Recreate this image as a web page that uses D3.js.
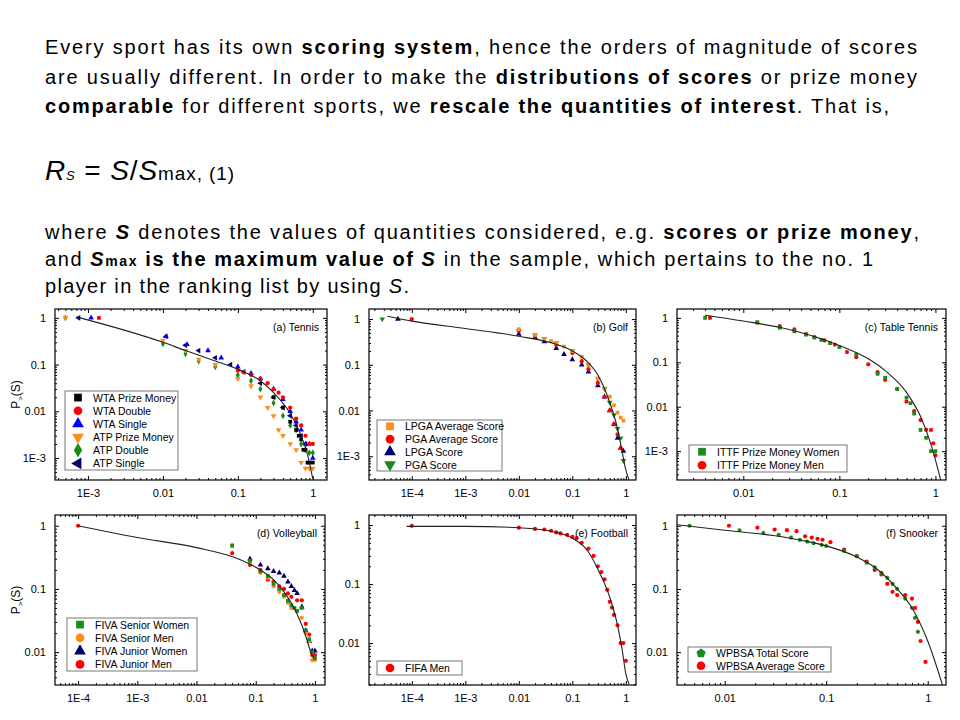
<!DOCTYPE html>
<html><head><meta charset="utf-8">
<script src="https://cdn.jsdelivr.net/npm/d3@7"></script>
<style>
body{margin:0;background:#fff;}
svg{font-family:"Liberation Sans",Arial,sans-serif;}
</style></head>
<body><svg id="chart" width="960" height="720"></svg>
<script>
// ---- data ([rescaled S, P>(S)]) ----
var tennisFit = [[7e-4,1.05],[0.01,0.3],[0.02,0.2],[0.05,0.12],[0.1,0.08],[0.2,0.045],[0.3,0.025],[0.5,0.009],[0.7,0.003],[0.85,0.0012],[1,0.00036]];
var wtaPrize = [[0.3,0.02],[0.4,0.012],[0.5,0.006],[0.6,0.004],[0.65,0.003],[0.7,0.0025],[0.75,0.0015],[0.8,0.0015],[0.85,0.0008],[0.9,0.0008],[1,0.0008]];
var wtaDouble = [[1.4e-3,1],[0.1,0.075],[0.12,0.068],[0.15,0.06],[0.2,0.05],[0.25,0.04],[0.3,0.03],[0.35,0.025],[0.4,0.02],[0.5,0.012],[0.6,0.007],[0.7,0.005],[0.8,0.003],[0.9,0.002],[1,0.002]];
var wtaSingle = [[1.1e-3,1],[0.011,0.4],[0.021,0.27],[0.04,0.2],[0.06,0.14],[0.1,0.09],[0.15,0.065],[0.2,0.05],[0.3,0.03],[0.4,0.018],[0.5,0.01],[0.6,0.006],[0.7,0.004],[0.8,0.002],[0.9,0.002],[1,0.001]];
var atpPrize = [[5e-4,1],[0.01,0.33],[0.02,0.2],[0.03,0.13],[0.05,0.1],[0.1,0.05],[0.15,0.035],[0.2,0.02],[0.25,0.012],[0.3,0.008],[0.35,0.004],[0.4,0.003],[0.5,0.002],[0.6,0.0015],[0.7,0.0008],[0.8,0.0006],[0.9,0.0006],[1,0.0006]];
var atpDouble = [[5e-4,1],[0.01,0.28],[0.02,0.17],[0.03,0.12],[0.05,0.09],[0.1,0.06],[0.15,0.045],[0.2,0.03],[0.3,0.015],[0.4,0.008],[0.5,0.005],[0.6,0.004],[0.7,0.002],[0.8,0.0015],[0.9,0.0013],[1,0.0013]];
var atpSingle = [[7.5e-4,1],[0.011,0.4],[0.02,0.26],[0.03,0.2],[0.05,0.14],[0.08,0.1],[0.12,0.07],[0.2,0.04],[0.3,0.02],[0.4,0.012],[0.5,0.008],[0.6,0.005],[0.7,0.003],[0.8,0.002]];

var golfFit = [[3.5e-5,1.15],[1e-4,0.9],[1e-3,0.62],[0.01,0.42],[0.05,0.28],[0.1,0.2],[0.2,0.11],[0.3,0.06],[0.5,0.015],[0.7,0.004],[0.85,0.0013],[1,0.0005],[1.15,0.0003]];
var lpgaAvg = [[0.01,0.6],[0.02,0.45],[0.03,0.37],[0.04,0.33],[0.05,0.3],[0.07,0.25],[0.1,0.2],[0.15,0.15],[0.2,0.1],[0.3,0.05],[0.4,0.03],[0.5,0.02],[0.6,0.013],[0.7,0.009],[0.8,0.007],[0.9,0.006]];
var pgaAvg = [[1e-4,1],[0.01,0.55],[0.02,0.43],[0.05,0.27],[0.1,0.18],[0.15,0.12],[0.2,0.08],[0.3,0.04],[0.4,0.02],[0.5,0.01],[0.6,0.005],[0.7,0.003],[0.8,0.0015]];
var lpgaScore = [[5.5e-5,1],[0.01,0.47],[0.02,0.4],[0.03,0.32],[0.05,0.23],[0.07,0.17],[0.1,0.13],[0.15,0.1],[0.2,0.07],[0.3,0.035],[0.4,0.02],[0.5,0.01],[0.6,0.005],[0.7,0.0025],[0.8,0.0015],[0.9,0.0013]];
var pgaScore = [[2.8e-5,1],[0.01,0.55],[0.02,0.45],[0.03,0.37],[0.05,0.3],[0.1,0.2],[0.2,0.1],[0.3,0.05],[0.4,0.03],[0.5,0.015],[0.6,0.008],[0.7,0.004],[0.8,0.0025],[0.9,0.0008]];

var ttFit = [[4e-3,1.15],[0.01,0.85],[0.03,0.55],[0.1,0.24],[0.2,0.12],[0.3,0.065],[0.5,0.021],[0.7,0.006],[0.9,0.0014],[1.15,0.0002]];
var ittfWomen = [[4e-3,1],[0.014,0.8],[0.024,0.6],[0.034,0.5],[0.045,0.42],[0.055,0.36],[0.065,0.32],[0.08,0.27],[0.1,0.22],[0.15,0.15],[0.25,0.055],[0.3,0.045],[0.4,0.025],[0.5,0.016],[0.55,0.012],[0.6,0.007],[0.7,0.003],[0.8,0.002],[0.9,0.001],[1,0.001]];
var ittfMen = [[4.5e-3,1],[0.014,0.78],[0.024,0.65],[0.034,0.55],[0.045,0.43],[0.055,0.37],[0.07,0.31],[0.09,0.25],[0.12,0.17],[0.15,0.13],[0.2,0.09],[0.25,0.06],[0.3,0.04],[0.4,0.025],[0.5,0.013],[0.6,0.008],[0.7,0.005],[0.8,0.003],[0.9,0.003],[0.95,0.0015],[1,0.0008]];

var volleyFit = [[1e-4,1],[1e-3,0.65],[0.01,0.45],[0.05,0.3],[0.1,0.22],[0.2,0.14],[0.3,0.09],[0.5,0.04],[0.7,0.018],[0.85,0.01],[0.95,0.008]];
var seniorWomen = [[0.04,0.48],[0.08,0.28],[0.12,0.19],[0.16,0.16],[0.2,0.12],[0.25,0.1],[0.3,0.08],[0.35,0.065],[0.4,0.055],[0.45,0.05],[0.5,0.045],[0.6,0.05],[0.7,0.022],[0.8,0.016],[0.9,0.01],[1,0.008]];
var seniorMen = [[0.04,0.5],[0.08,0.26],[0.12,0.18],[0.16,0.15],[0.2,0.11],[0.25,0.09],[0.3,0.075],[0.35,0.06],[0.4,0.05],[0.5,0.045],[0.6,0.035],[0.7,0.02],[0.8,0.015],[0.9,0.0075],[1,0.0075]];
var juniorWomen = [[0.08,0.3],[0.12,0.24],[0.16,0.21],[0.2,0.19],[0.25,0.18],[0.3,0.16],[0.35,0.13],[0.4,0.11],[0.45,0.095],[0.5,0.085],[0.6,0.052],[0.7,0.022],[0.8,0.015],[0.9,0.0105],[1,0.0105]];
var juniorMen = [[1e-4,1],[0.04,0.37],[0.08,0.24],[0.12,0.2],[0.16,0.14],[0.2,0.13],[0.25,0.11],[0.3,0.1],[0.35,0.085],[0.4,0.075],[0.5,0.066],[0.6,0.066],[0.7,0.028],[0.8,0.019],[0.9,0.009],[1,0.009]];

var footFit = [[8e-5,0.95],[1e-3,0.95],[0.01,0.9],[0.05,0.75],[0.1,0.6],[0.2,0.35],[0.3,0.18],[0.5,0.06],[0.7,0.02],[0.85,0.008],[1,0.003],[1.15,0.002]];
var fifaMen = [[1e-4,0.97],[0.01,0.9],[0.02,0.86],[0.03,0.84],[0.04,0.8],[0.05,0.75],[0.06,0.72],[0.08,0.68],[0.1,0.63],[0.12,0.6],[0.15,0.5],[0.2,0.4],[0.25,0.3],[0.3,0.2],[0.35,0.16],[0.4,0.12],[0.45,0.08],[0.5,0.05],[0.55,0.04],[0.6,0.03],[0.7,0.02],[0.8,0.01],[0.9,0.01],[1,0.005]];

var snookerFit = [[3.2e-3,1.05],[0.01,0.85],[0.03,0.7],[0.06,0.58],[0.1,0.48],[0.2,0.32],[0.3,0.22],[0.5,0.1],[0.7,0.05],[1,0.015],[1.4,0.003]];
var wpbsaTotal = [[4.5e-3,1],[0.014,0.85],[0.024,0.77],[0.034,0.72],[0.045,0.65],[0.055,0.6],[0.065,0.56],[0.075,0.53],[0.09,0.5],[0.1,0.48],[0.15,0.4],[0.2,0.33],[0.25,0.26],[0.3,0.22],[0.35,0.18],[0.4,0.15],[0.45,0.12],[0.5,0.1],[0.6,0.07],[0.7,0.05],[0.75,0.035],[0.8,0.021]];
var wpbsaAvg = [[0.011,1],[0.021,0.93],[0.031,0.87],[0.041,0.85],[0.051,0.82],[0.062,0.68],[0.072,0.65],[0.082,0.62],[0.092,0.6],[0.11,0.55],[0.15,0.42],[0.2,0.33],[0.25,0.27],[0.3,0.2],[0.35,0.17],[0.4,0.12],[0.45,0.09],[0.5,0.08],[0.6,0.08],[0.7,0.07],[0.75,0.05],[0.8,0.03],[0.85,0.015],[0.95,0.007]];

var panels = [
  {title:"(a) Tennis", box:[55,309,327,480], xd:[-3.44,0.19], yd:[-3.47,0.19], xt:[-3,-2,-1,0], yt:[-3,-2,-1,0], ylab:true,
   fit:tennisFit, leg:[65,391,178,470],
   series:[["WTA Prize Money",wtaPrize,"#000","square"],["WTA Double",wtaDouble,"#f00","circle"],["WTA Single",wtaSingle,"#00f","up"],
           ["ATP Prize Money",atpPrize,"#ff8c1a","down"],["ATP Double",atpDouble,"#1a8a1a","diamond"],["ATP Single",atpSingle,"#00006e","left"]]},
  {title:"(b) Golf", box:[369,309,636,480], xd:[-4.8,0.19], yd:[-3.52,0.22], xt:[-4,-3,-2,-1,0], yt:[-3,-2,-1,0],
   fit:golfFit, leg:[377,420,502,471],
   series:[["LPGA Average Score",lpgaAvg,"#ff8c1a","square"],["PGA Average Score",pgaAvg,"#f00","circle"],["LPGA Score",lpgaScore,"#00006e","up"],["PGA Score",pgaScore,"#1a8a1a","down"]]},
  {title:"(c) Table Tennis", box:[677,309,946,480], xd:[-2.69,0.11], yd:[-3.65,0.2], xt:[-2,-1,0], yt:[-3,-2,-1,0],
   fit:ttFit, leg:[689,445,847,472],
   series:[["ITTF Prize Money Women",ittfWomen,"#1a8a1a","square"],["ITTF Prize Money Men",ittfMen,"#f00","circle"]]},
  {title:"(d) Volleyball", box:[55,515,325,685], xd:[-4.39,0.17], yd:[-2.52,0.17], xt:[-4,-3,-2,-1,0], yt:[-2,-1,0], ylab:true,
   fit:volleyFit, leg:[67,618,197,671],
   series:[["FIVA Senior Women",seniorWomen,"#1a8a1a","square"],["FIVA Senior Men",seniorMen,"#ff8c1a","circle"],["FIVA Junior Women",juniorWomen,"#00006e","up"],["FIVA Junior Men",juniorMen,"#f00","circle"]]},
  {title:"(e) Football", box:[369,515,636,685], xd:[-4.8,0.19], yd:[-2.71,0.17], xt:[-4,-3,-2,-1,0], yt:[-2,-1,0],
   fit:footFit, leg:[377,661,462,675],
   series:[["FIFA Men",fifaMen,"#f00","circle"]]},
  {title:"(f) Snooker", box:[677,515,946,685], xd:[-2.47,0.18], yd:[-2.52,0.17], xt:[-2,-1,0], yt:[-2,-1,0],
   fit:snookerFit, leg:[688,647,831,672],
   series:[["WPBSA Total Score",wpbsaTotal,"#1a8a1a","pentagon"],["WPBSA Average Score",wpbsaAvg,"#f00","circle"]]}
];

var svg = d3.select("#chart");

// ---- slide text ----
var para1 = [
  [["Every sport has its own ",0],["scoring system",1],[", hence the orders of magnitude of scores",0]],
  [["are usually different. In order to make the ",0],["distributions of scores",1],[" or prize money",0]],
  [["comparable",1],[" for different sports, we ",0],["rescale the quantities of interest",1],[". That is,",0]]
];
var para1Len = [872, 872, 844];
var para2 = [
  [["where ",0],["S",2],[" denotes the values of quantities considered, e.g. ",0],["scores or prize money",1],[",",0]],
  [["and ",0],["S",2],["max",3],[" is the maximum value of ",1],["S",2],[" in the sample, which pertains to the no. 1",0]],
  [["player in the ranking list by using ",0],["S",4],[".",0]]
];
var para2Len = [874, 828, 364];
function writeLines(lines, lens, y0, dy) {
  lines.forEach(function(parts, i) {
    var t = svg.append("text").attr("x", 45).attr("y", y0 + i*dy).attr("font-size", 20).attr("fill", "#000")
      .attr("textLength", lens[i]).attr("lengthAdjust", "spacing");
    parts.forEach(function(p) {
      var s = t.append("tspan").text(p[0]);
      if (p[1] == 1 || p[1] == 2) s.attr("font-weight", "bold");
      if (p[1] == 2 || p[1] == 4) s.attr("font-style", "italic");
      if (p[1] == 3) s.attr("font-weight", "bold").attr("font-size", 14);
    });
  });
}
writeLines(para1, para1Len, 54, 29.5);
writeLines(para2, para2Len, 239, 27);

var eq = svg.append("text").attr("x", 45).attr("y", 180).attr("font-size", 28)
  .attr("textLength", 189).attr("lengthAdjust", "spacing");
eq.append("tspan").text("R").attr("font-style", "italic");
eq.append("tspan").text("S").attr("font-style", "italic").attr("font-size", 13);
eq.append("tspan").text(" = ");
eq.append("tspan").text("S").attr("font-style", "italic");
eq.append("tspan").text("/");
eq.append("tspan").text("S").attr("font-style", "italic");
eq.append("tspan").text("max, (1)").attr("font-size", 19);

// ---- panels ----
function markerPath(shape, size) {
  var m = {square:d3.symbolSquare, circle:d3.symbolCircle, up:d3.symbolTriangle, down:d3.symbolTriangle,
           left:d3.symbolTriangle, diamond:d3.symbolDiamond, pentagon:d3.symbolCircle};
  if (shape == "pentagon") {
    var r = Math.sqrt(size) * 0.62, pts = [];
    for (var k = 0; k < 5; k++) { var a = -Math.PI/2 + k*2*Math.PI/5; pts.push([r*Math.cos(a), r*Math.sin(a)]); }
    return "M" + pts.join("L") + "Z";
  }
  return d3.symbol().type(m[shape]).size(size)();
}
function rot(shape) { return shape == "down" ? 180 : shape == "left" ? -90 : 0; }

panels.forEach(function(p) {
  var b = p.box;
  var x = d3.scaleLog().domain([Math.pow(10,p.xd[0]), Math.pow(10,p.xd[1])]).range([b[0], b[2]]);
  var y = d3.scaleLog().domain([Math.pow(10,p.yd[0]), Math.pow(10,p.yd[1])]).range([b[3], b[1]]);
  var g = svg.append("g");
  var clipId = "clip" + b[0] + "_" + b[1];
  g.append("clipPath").attr("id", clipId).append("rect").attr("x", b[0]).attr("y", b[1]).attr("width", b[2]-b[0]).attr("height", b[3]-b[1]);

  // ticks on all sides, inward
  var xmin = [], ymin = [];
  for (var e = Math.floor(p.xd[0]); e <= p.xd[1]; e++) for (var k = 2; k < 10; k++) { var v = k*Math.pow(10,e); if (Math.log10(v) > p.xd[0] && Math.log10(v) < p.xd[1]) xmin.push(v); }
  for (var e2 = Math.floor(p.yd[0]); e2 <= p.yd[1]; e2++) for (var k2 = 2; k2 < 10; k2++) { var w = k2*Math.pow(10,e2); if (Math.log10(w) > p.yd[0] && Math.log10(w) < p.yd[1]) ymin.push(w); }
  var xmaj = p.xt.map(function(e){return Math.pow(10,e);}), ymaj = p.yt.map(function(e){return Math.pow(10,e);});
  var fmt = function(v){ var e = Math.round(Math.log10(v)); return {"-4":"1E-4","-3":"1E-3","-2":"0.01","-1":"0.1","0":"1"}[e]; };

  g.append("g").attr("transform","translate(0,"+b[3]+")").call(d3.axisBottom(x).tickValues(xmaj).tickFormat(fmt).tickSize(-4).tickPadding(9));
  g.append("g").attr("transform","translate(0,"+b[3]+")").call(d3.axisBottom(x).tickValues(xmin).tickFormat("").tickSize(-2));
  g.append("g").attr("transform","translate(0,"+b[1]+")").call(d3.axisTop(x).tickValues(xmaj).tickFormat("").tickSize(-4));
  g.append("g").attr("transform","translate(0,"+b[1]+")").call(d3.axisTop(x).tickValues(xmin).tickFormat("").tickSize(-2));
  g.append("g").attr("transform","translate("+b[0]+",0)").call(d3.axisLeft(y).tickValues(ymaj).tickFormat(fmt).tickSize(-4).tickPadding(9));
  g.append("g").attr("transform","translate("+b[0]+",0)").call(d3.axisLeft(y).tickValues(ymin).tickFormat("").tickSize(-2));
  g.append("g").attr("transform","translate("+b[2]+",0)").call(d3.axisRight(y).tickValues(ymaj).tickFormat("").tickSize(-4));
  g.append("g").attr("transform","translate("+b[2]+",0)").call(d3.axisRight(y).tickValues(ymin).tickFormat("").tickSize(-2));
  g.selectAll(".domain").remove();
  g.selectAll(".tick text").attr("font-size", 11).attr("font-family", "Liberation Sans, Arial, sans-serif").attr("fill", "#000");
  g.append("rect").attr("x", b[0]).attr("y", b[1]).attr("width", b[2]-b[0]).attr("height", b[3]-b[1])
    .attr("fill", "none").attr("stroke", "#000").attr("stroke-width", 1.2);

  var plot = g.append("g").attr("clip-path", "url(#" + clipId + ")");
  p.series.slice().reverse().forEach(function(s) {
    plot.selectAll(null).data(s[1]).enter().append("path")
      .attr("d", markerPath(s[3], 14))
      .attr("transform", function(d){ return "translate(" + x(d[0]) + "," + y(d[1]) + ") rotate(" + rot(s[3]) + ")"; })
      .attr("fill", s[2]);
  });
  plot.append("path").datum(p.fit)
    .attr("d", d3.line().curve(d3.curveMonotoneX).x(function(d){return x(d[0]);}).y(function(d){return y(d[1]);}))
    .attr("fill", "none").attr("stroke", "#222").attr("stroke-width", 1.1);

  g.append("text").attr("x", b[2]-8).attr("y", b[1]+22).attr("text-anchor", "end").attr("font-size", 10.5).text(p.title);

  // legend
  var L = p.leg, n = p.series.length, step = (L[3]-L[1]) / n;
  g.append("rect").attr("x", L[0]).attr("y", L[1]).attr("width", L[2]-L[0]).attr("height", L[3]-L[1])
    .attr("fill", "#fff").attr("stroke", "#555").attr("stroke-width", 0.8);
  p.series.forEach(function(s, i) {
    var cy = L[1] + step*(i+0.5);
    g.append("path").attr("d", markerPath(s[3], 60)).attr("fill", s[2])
      .attr("transform", "translate(" + (L[0]+13) + "," + cy + ") rotate(" + rot(s[3]) + ")");
    g.append("text").attr("x", L[0]+28).attr("y", cy+4).attr("font-size", 10.5).text(s[0]);
  });

  if (p.ylab) {
    var t = g.append("text").attr("transform", "translate(" + (b[0]-35) + "," + ((b[1]+b[3])/2) + ") rotate(-90)")
      .attr("text-anchor", "middle").attr("font-size", 12);
    t.append("tspan").text("P");
    t.append("tspan").text(">").attr("font-size", 8).attr("dy", 3);
    t.append("tspan").text("(S)").attr("dy", -3);
  }
});
</script></body></html>
